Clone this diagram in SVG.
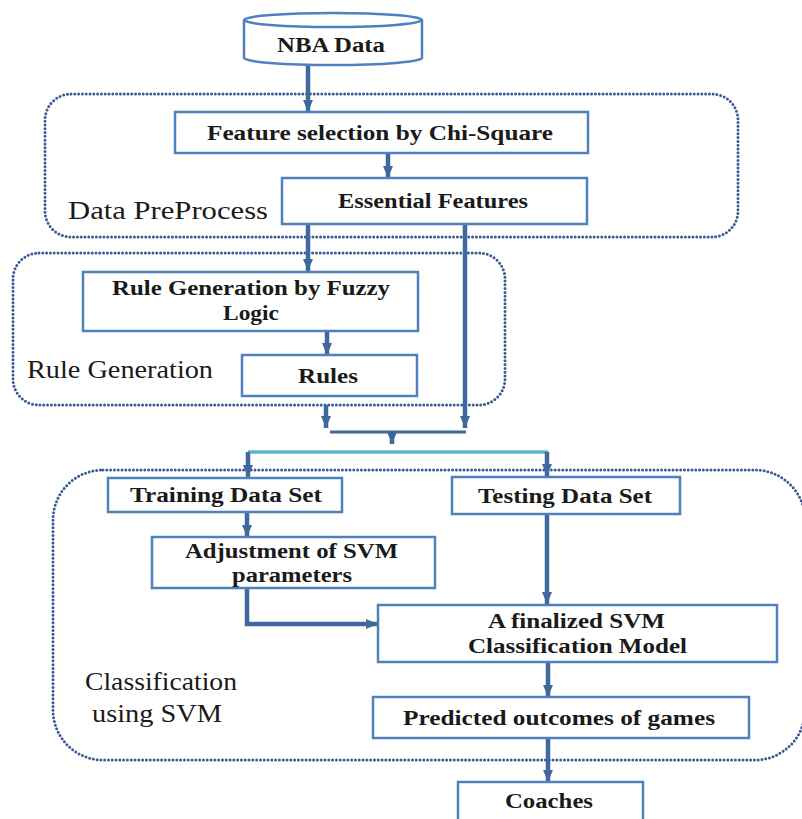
<svg xmlns="http://www.w3.org/2000/svg" width="802" height="819" viewBox="0 0 802 819">
<style>
.box{fill:#fff;stroke:#4f81bd;stroke-width:2.5}
.grp{fill:none;stroke:#3a5a94;stroke-width:3;stroke-dasharray:0 3.8;stroke-linecap:round}
.t{font-family:"Liberation Serif","Times New Roman",serif;font-weight:bold;font-size:20px;fill:#1a1a1a}
.lbl{font-family:"Liberation Serif","Times New Roman",serif;font-size:25px;fill:#1a1a1a}
.arr{fill:none;stroke:#41689c;stroke-width:4.5}
.ln{fill:none;stroke:#41689c;stroke-width:3}
.cy{fill:none;stroke:#5fb3c9;stroke-width:3.5}
</style>
<defs>
<marker id="ah" markerUnits="userSpaceOnUse" markerWidth="12" markerHeight="10" viewBox="0 0 12 10" refX="12" refY="5" orient="auto">
<path d="M0,0 L12,5 L0,10 z" fill="#41689c"/>
</marker>
</defs>
<rect width="802" height="819" fill="#fff"/>

<g id="grp-preprocess">
<rect class="grp" x="45" y="94" width="693" height="143" rx="26"/>
<text class="lbl" x="68" y="219" textLength="200" lengthAdjust="spacingAndGlyphs">Data PreProcess</text>
</g>
<g id="grp-rulegen">
<rect class="grp" x="13" y="253" width="492" height="152" rx="26"/>
<text class="lbl" x="27" y="378" textLength="186" lengthAdjust="spacingAndGlyphs">Rule Generation</text>
</g>
<g id="grp-classification">
<rect class="grp" x="53" y="470" width="752" height="290" rx="50"/>
<text class="lbl" x="85" y="690" textLength="152" lengthAdjust="spacingAndGlyphs">Classification</text>
<text class="lbl" x="92" y="722" textLength="130" lengthAdjust="spacingAndGlyphs">using SVM</text>
</g>

<g id="connectors">
<line class="arr" x1="308" y1="65" x2="308" y2="112" marker-end="url(#ah)"/>
<line class="arr" x1="388" y1="153" x2="388" y2="178" marker-end="url(#ah)"/>
<line class="arr" x1="308" y1="224" x2="308" y2="271" marker-end="url(#ah)"/>
<line class="arr" x1="465" y1="224" x2="465" y2="428" marker-end="url(#ah)"/>
<line class="arr" x1="327" y1="331" x2="327" y2="355" marker-end="url(#ah)"/>
<line class="arr" x1="326" y1="405" x2="326" y2="428" marker-end="url(#ah)"/>
<line class="ln" x1="330" y1="432" x2="466" y2="432"/>
<line class="arr" x1="392" y1="432" x2="392" y2="444" marker-end="url(#ah)"/>
<line class="cy" x1="248" y1="452" x2="548" y2="452"/>
<line class="arr" x1="248" y1="452" x2="248" y2="477" marker-end="url(#ah)"/>
<line class="arr" x1="547" y1="452" x2="547" y2="476" marker-end="url(#ah)"/>
<line class="arr" x1="247" y1="512" x2="247" y2="537" marker-end="url(#ah)"/>
<polyline class="arr" points="247,588 247,624 378,624" marker-end="url(#ah)"/>
<line class="arr" x1="547" y1="514" x2="547" y2="604" marker-end="url(#ah)"/>
<line class="arr" x1="548" y1="662" x2="548" y2="697" marker-end="url(#ah)"/>
<line class="arr" x1="548" y1="738" x2="548" y2="782" marker-end="url(#ah)"/>
</g>

<g id="n-nba">
<path class="box" d="M244,20 V58 A89,7 0 0 0 422,58 V20"/>
<ellipse class="box" cx="333" cy="20" rx="89" ry="7"/>
<text class="t" x="277" y="52" font-size="21" textLength="108" lengthAdjust="spacingAndGlyphs">NBA Data</text>
</g>
<g id="n-feature">
<rect class="box" x="175" y="112" width="413" height="41"/>
<text class="t" x="207" y="140" textLength="346" lengthAdjust="spacingAndGlyphs">Feature selection by Chi-Square</text>
</g>
<g id="n-essential">
<rect class="box" x="282" y="178" width="305" height="46"/>
<text class="t" x="338" y="208" textLength="190" lengthAdjust="spacingAndGlyphs">Essential Features</text>
</g>
<g id="n-fuzzy">
<rect class="box" x="83" y="272" width="335" height="59"/>
<text class="t" x="112" y="295" textLength="278" lengthAdjust="spacingAndGlyphs">Rule Generation by Fuzzy</text>
<text class="t" x="223" y="320" textLength="56" lengthAdjust="spacingAndGlyphs">Logic</text>
</g>
<g id="n-rules">
<rect class="box" x="242" y="355" width="175" height="41"/>
<text class="t" x="298" y="383" textLength="60" lengthAdjust="spacingAndGlyphs">Rules</text>
</g>
<g id="n-training">
<rect class="box" x="108" y="478" width="234" height="34"/>
<text class="t" x="130" y="502" textLength="192" lengthAdjust="spacingAndGlyphs">Training Data Set</text>
</g>
<g id="n-testing">
<rect class="box" x="452" y="477" width="228" height="37"/>
<text class="t" x="478" y="503" textLength="174" lengthAdjust="spacingAndGlyphs">Testing Data Set</text>
</g>
<g id="n-adjust">
<rect class="box" x="152" y="537" width="283" height="51"/>
<text class="t" x="185" y="558" textLength="213" lengthAdjust="spacingAndGlyphs">Adjustment of SVM</text>
<text class="t" x="232" y="582" textLength="120" lengthAdjust="spacingAndGlyphs">parameters</text>
</g>
<g id="n-final">
<rect class="box" x="378" y="605" width="399" height="57"/>
<text class="t" x="488" y="628" textLength="177" lengthAdjust="spacingAndGlyphs">A finalized SVM</text>
<text class="t" x="468" y="653" textLength="219" lengthAdjust="spacingAndGlyphs">Classification Model</text>
</g>
<g id="n-predicted">
<rect class="box" x="373" y="697" width="376" height="41"/>
<text class="t" x="403" y="725" textLength="312" lengthAdjust="spacingAndGlyphs">Predicted outcomes of games</text>
</g>
<g id="n-coaches">
<rect class="box" x="458" y="782" width="185" height="45"/>
<text class="t" x="505" y="808" textLength="88" lengthAdjust="spacingAndGlyphs">Coaches</text>
</g>
</svg>
